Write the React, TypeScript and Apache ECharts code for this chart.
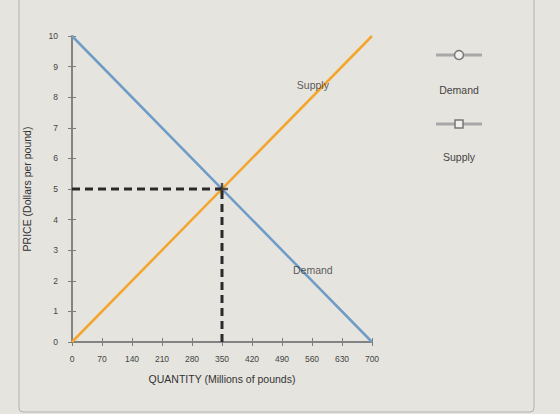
import React, { useEffect, useRef } from "react";
import * as echarts from "echarts";

const quantityTicks = [0, 70, 140, 210, 280, 350, 420, 490, 560, 630, 700];
const priceTicks = [0, 1, 2, 3, 4, 5, 6, 7, 8, 9, 10];
const demandQ = [0, 700];
const demandP = [10, 0];
const supplyQ = [0, 700];
const supplyP = [0, 10];
const equilibriumQ = 350;
const equilibriumP = 5;
const seriesNames = ["Demand", "Supply"];

export default function App() {
  const ref = useRef<HTMLDivElement>(null);
  useEffect(() => {
    if (!ref.current) return;
    const chart = echarts.init(ref.current, null, { renderer: "svg" });
    const axisColor = "#7d7d7d";
    const font = "Liberation Sans, Arial, sans-serif";
    const xMin = quantityTicks[0];
    const xMax = quantityTicks[quantityTicks.length - 1];
    const yMin = priceTicks[0];
    const yMax = priceTicks[priceTicks.length - 1];
    const baseX = {
      type: "value",
      min: xMin,
      max: xMax,
      interval: quantityTicks[1] - quantityTicks[0],
      splitLine: { show: false },
      axisLine: { show: true, lineStyle: { color: axisColor, width: 1.5 } },
    };
    const baseY = {
      type: "value",
      min: yMin,
      max: yMax,
      interval: priceTicks[1] - priceTicks[0],
      splitLine: { show: false },
      axisLine: { show: true, lineStyle: { color: axisColor, width: 1.5 } },
    };
    chart.setOption({
      animation: false,
      backgroundColor: "#e6e4df",
      grid: { left: 72, top: 36, right: 188, bottom: 72 },
      xAxis: [
        {
          ...baseX,
          name: "QUANTITY (Millions of pounds)",
          nameLocation: "middle",
          nameGap: 31,
          nameTextStyle: { color: "#333", fontSize: 10.5, fontFamily: font },
          axisTick: { show: true, length: 4, lineStyle: { color: axisColor } },
          axisLabel: { color: "#444", fontSize: 8.5, margin: 12, fontFamily: font },
        },
        {
          ...baseX,
          position: "bottom",
          axisTick: { show: true, inside: true, length: 4, lineStyle: { color: axisColor } },
          axisLabel: { show: false },
        },
      ],
      yAxis: [
        {
          ...baseY,
          name: "PRICE (Dollars per pound)",
          nameLocation: "middle",
          nameGap: 40,
          nameTextStyle: { color: "#333", fontSize: 10.5, fontFamily: font },
          axisTick: { show: true, length: 4, lineStyle: { color: axisColor } },
          axisLabel: { color: "#444", fontSize: 8.5, margin: 14, fontFamily: font },
        },
        {
          ...baseY,
          position: "left",
          axisTick: { show: true, inside: true, length: 4, lineStyle: { color: axisColor } },
          axisLabel: { show: false },
        },
      ],
      series: [
        {
          name: seriesNames[0],
          type: "line",
          data: demandQ.map((q, i) => [q, demandP[i]]),
          symbol: "none",
          lineStyle: { color: "#6f9cc6", width: 2.5 },
          z: 3,
        },
        {
          name: seriesNames[1],
          type: "line",
          data: supplyQ.map((q, i) => [q, supplyP[i]]),
          symbol: "none",
          lineStyle: { color: "#f4a52c", width: 2.5 },
          z: 3,
        },
        {
          type: "line",
          data: [
            [xMin, equilibriumP],
            [equilibriumQ, equilibriumP],
          ],
          symbol: "none",
          lineStyle: { color: "#2a2a2a", width: 3, type: [8, 5] },
          z: 4,
        },
        {
          type: "line",
          data: [
            [equilibriumQ, yMin],
            [equilibriumQ, equilibriumP],
          ],
          symbol: "none",
          lineStyle: { color: "#2a2a2a", width: 3, type: [8, 5] },
          z: 4,
        },
        {
          type: "scatter",
          data: [[equilibriumQ, equilibriumP]],
          symbol: "path://M4,0H6V4H10V6H6V10H4V6H0V4H4Z",
          symbolSize: 12,
          itemStyle: { color: "#2a2a2a" },
          z: 5,
        },
        {
          type: "scatter",
          data: [
            { value: [562, 8.4], label: { formatter: seriesNames[1] } },
            { value: [562, 2.35], label: { formatter: seriesNames[0] } },
          ],
          symbolSize: 0,
          label: {
            show: true,
            position: "inside",
            color: "#333",
            fontSize: 10.5,
            fontFamily: font,
          },
          z: 6,
        },
      ],
      graphic: [
        {
          type: "rect",
          shape: { x: 19, y: -10, width: 515, height: 422, r: 4 },
          style: { fill: "none", stroke: "#b3b1ac", lineWidth: 1 },
          silent: true,
        },
        { type: "line", shape: { x1: 436, y1: 55, x2: 482, y2: 55 }, style: { stroke: "#a8a8a8", lineWidth: 3 } },
        { type: "circle", shape: { cx: 459, cy: 55, r: 4.5 }, style: { fill: "#f0efec", stroke: "#777", lineWidth: 1.5 } },
        { type: "text", x: 459, y: 90, style: { text: seriesNames[0], fill: "#444", fontSize: 10.5, fontFamily: font, align: "center", verticalAlign: "middle" } },
        { type: "line", shape: { x1: 436, y1: 124, x2: 482, y2: 124 }, style: { stroke: "#a8a8a8", lineWidth: 3 } },
        { type: "rect", shape: { x: 455, y: 120, width: 8, height: 8 }, style: { fill: "#f0efec", stroke: "#777", lineWidth: 1.5 } },
        { type: "text", x: 459, y: 157, style: { text: seriesNames[1], fill: "#444", fontSize: 10.5, fontFamily: font, align: "center", verticalAlign: "middle" } },
      ],
    });
    return () => chart.dispose();
  }, []);
  return <div ref={ref} style={{ position: "fixed", left: 0, top: 0, width: 560, height: 414 }} />;
}
